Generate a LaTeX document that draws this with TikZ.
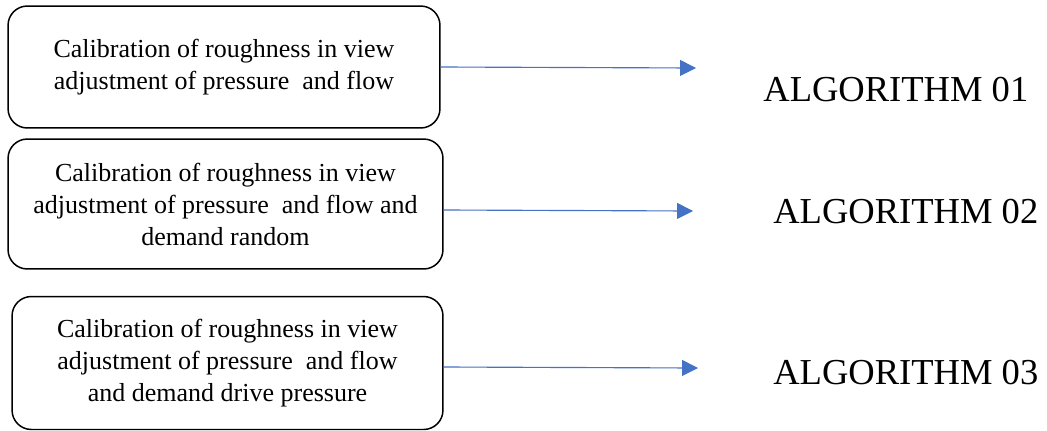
\documentclass[tikz,border=0pt]{standalone}
\usepackage{fontspec}
\setmainfont{Liberation Serif}
\usepackage{tikz}
\usetikzlibrary{positioning,arrows.meta}

\definecolor{arrowblue}{RGB}{68,114,196}

\tikzset{
  calbox/.style={draw, line width=0.85pt, rounded corners=11pt, align=center,
    font=\fontsize{14.8}{18.2}\selectfont},
  flow/.style={arrowblue, line width=0.65pt, -{Triangle[length=9pt,width=9pt]}},
  algo/.style={anchor=base west, inner sep=0pt, font=\fontsize{20.8}{24}\selectfont}
}

\begin{document}
\begin{tikzpicture}[x=0.02cm, y=-0.02cm]
\useasboundingbox (0,0) rectangle (1047,430);

% Calibration boxes
\node[calbox, minimum width=8.64cm, minimum height=2.44cm] (b1) at (224,67)
  {Calibration of roughness in view\\adjustment of pressure\ \ and flow};
\node[calbox, minimum width=8.70cm, minimum height=2.60cm] (b2) at (225.5,204)
  {Calibration of roughness in view\\adjustment of pressure\ \ and flow and\\demand random};
\node[calbox, minimum width=8.62cm, minimum height=2.66cm] (b3) at (227.5,363)
  {Calibration of roughness in view\\adjustment of pressure\ \ and flow\\and demand drive pressure};

% Algorithms
\node[algo] (a1) at (763,101) {ALGORITHM 01};
\node[algo] (a2) at (773,223) {ALGORITHM 02};
\node[algo] (a3) at (773,384) {ALGORITHM 03};

% Arrow tips
\coordinate (t1) at (696,68);
\coordinate (t2) at (693,211);
\coordinate (t3) at (698,368);

\draw[flow] (b1.east) -- (t1);
\draw[flow] ([yshift=-0.12cm]b2.east) -- (t2);
\draw[flow] ([yshift=-0.08cm]b3.east) -- (t3);
\end{tikzpicture}
\end{document}
